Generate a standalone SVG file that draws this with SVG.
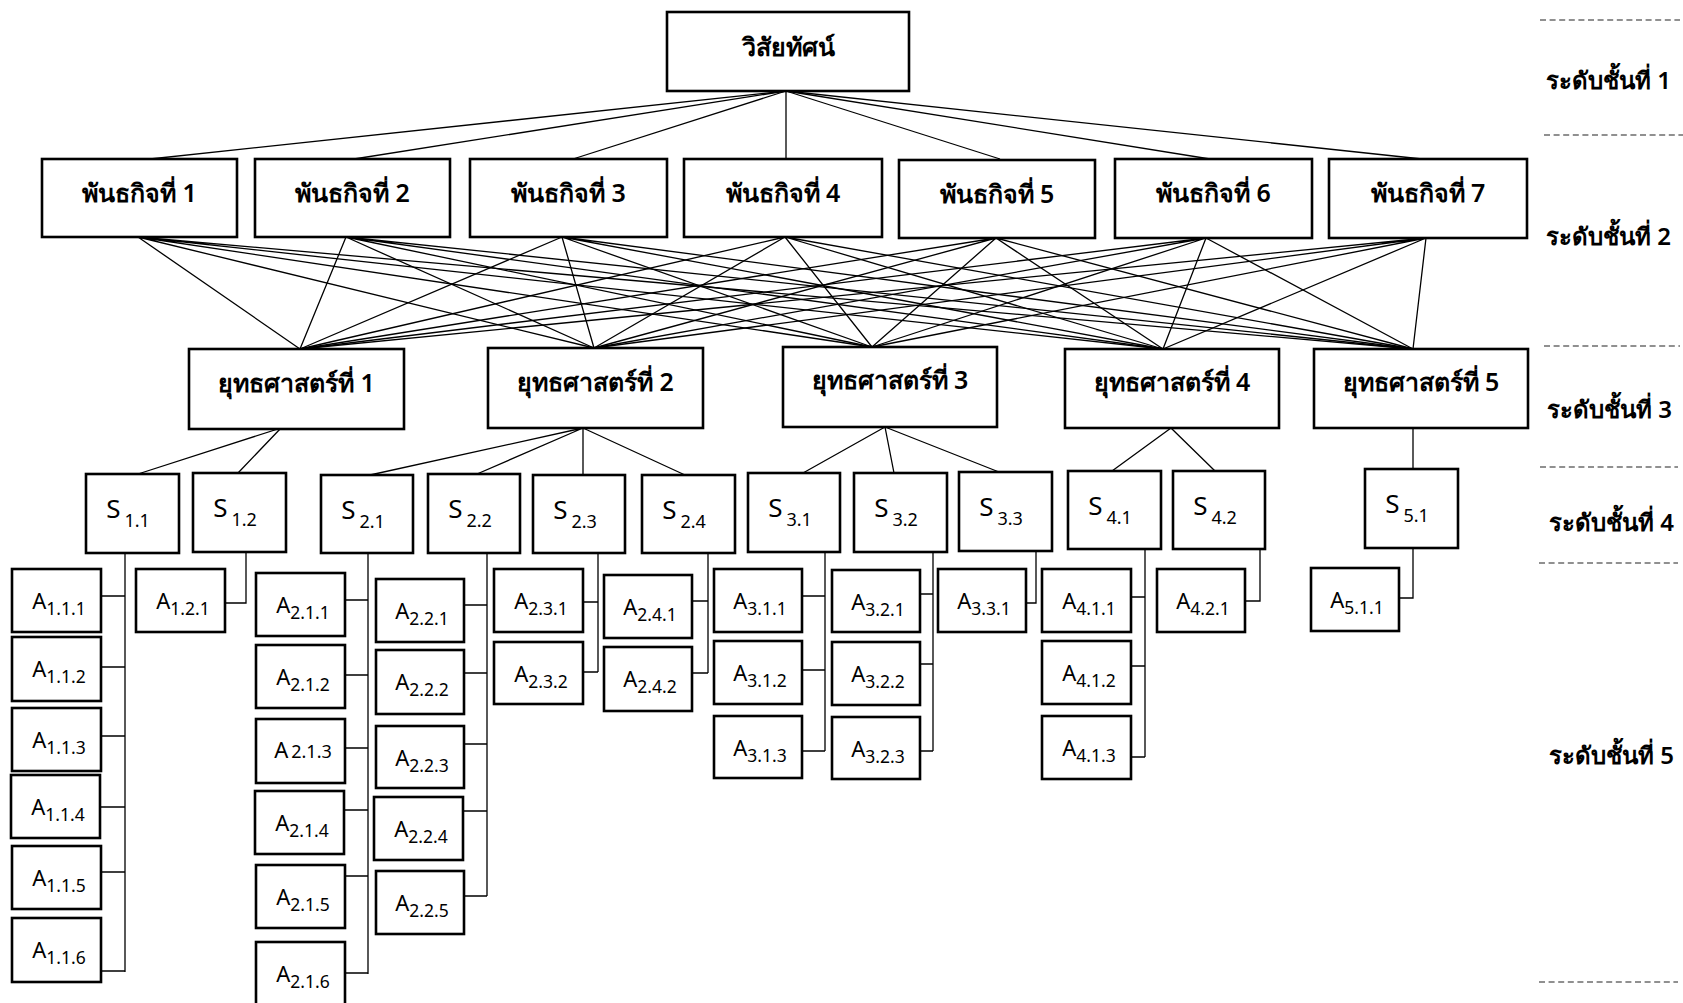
<svg xmlns="http://www.w3.org/2000/svg" width="1683" height="1003" viewBox="0 0 1683 1003">
  <style>
    .bg { fill: #ffffff; }
    .box { fill: #ffffff; stroke: #000000; stroke-width: 2.6; }
    .ln { stroke: #000000; stroke-width: 1.3; fill: none; }
    .dash { stroke: #222222; stroke-width: 1.2; stroke-dasharray: 6 3.6; fill: none; }
    .th { font-family: "Noto Sans", "DejaVu Sans", sans-serif; font-size: 25px; font-weight: 600; text-anchor: middle; fill: #000000; }
    .lbl { font-family: "Noto Sans", "DejaVu Sans", sans-serif; font-size: 24px; font-weight: 600; fill: #000000; }
    .s { font-family: "Noto Sans", "DejaVu Sans", sans-serif; font-size: 26px; text-anchor: middle; fill: #000000; }
    .a { font-family: "Noto Sans", "DejaVu Sans", sans-serif; font-size: 22px; text-anchor: middle; fill: #000000; }
    .sub { font-size: 17.5px; }
    .ssub { font-size: 18px; }
  </style>

  <rect class="bg" x="0" y="0" width="1683" height="1003"/>

  <!-- level guides on the right -->
  <g id="levels">
    <line class="dash" x1="1540" y1="20" x2="1680" y2="20"/>
    <line class="dash" x1="1544" y1="135" x2="1683" y2="135"/>
    <line class="dash" x1="1544" y1="346" x2="1680" y2="346"/>
    <line class="dash" x1="1540" y1="467" x2="1678" y2="467"/>
    <line class="dash" x1="1539" y1="563" x2="1678" y2="563"/>
    <line class="dash" x1="1539" y1="982" x2="1678" y2="982"/>
    <text class="lbl" x="1546" y="89">ระดับชั้นที่ 1</text>
    <text class="lbl" x="1546" y="245">ระดับชั้นที่ 2</text>
    <text class="lbl" x="1547" y="418">ระดับชั้นที่ 3</text>
    <text class="lbl" x="1549" y="531">ระดับชั้นที่ 4</text>
    <text class="lbl" x="1549" y="764">ระดับชั้นที่ 5</text>
  </g>

  <!-- connectors -->
  <g id="connectors">
    <!-- vision to missions -->
    <line class="ln" x1="786" y1="91" x2="150" y2="159"/>
    <line class="ln" x1="786" y1="91" x2="354" y2="159"/>
    <line class="ln" x1="786" y1="91" x2="573" y2="159"/>
    <line class="ln" x1="786" y1="91" x2="786" y2="159"/>
    <line class="ln" x1="786" y1="91" x2="1000" y2="159"/>
    <line class="ln" x1="786" y1="91" x2="1210" y2="159"/>
    <line class="ln" x1="786" y1="91" x2="1422" y2="159"/>

    <!-- every mission to every strategy -->
    <path class="ln" d="M138 237 L300 349 M138 237 L594 348 M138 237 L872 347 M138 237 L1163 349 M138 237 L1413 349"/>
    <path class="ln" d="M346 237 L300 349 M346 237 L594 348 M346 237 L872 347 M346 237 L1163 349 M346 237 L1413 349"/>
    <path class="ln" d="M562 237 L300 349 M562 237 L594 348 M562 237 L872 347 M562 237 L1163 349 M562 237 L1413 349"/>
    <path class="ln" d="M785 237 L300 349 M785 237 L594 348 M785 237 L872 347 M785 237 L1163 349 M785 237 L1413 349"/>
    <path class="ln" d="M996 238 L300 349 M996 238 L594 348 M996 238 L872 347 M996 238 L1163 349 M996 238 L1413 349"/>
    <path class="ln" d="M1206 238 L300 349 M1206 238 L594 348 M1206 238 L872 347 M1206 238 L1163 349 M1206 238 L1413 349"/>
    <path class="ln" d="M1426 238 L300 349 M1426 238 L594 348 M1426 238 L872 347 M1426 238 L1163 349 M1426 238 L1413 349"/>

    <!-- strategies to sub-strategies -->
    <path class="ln" d="M281 428 L138 474 M281 428 L238 473"/>
    <path class="ln" d="M583 428 L370 475 M583 428 L477 474 M583 428 L583 475 M583 428 L685 475"/>
    <path class="ln" d="M885 427 L803 473 M885 427 L894 473 M885 427 L999 472"/>
    <path class="ln" d="M1171 428 L1112 471 M1171 428 L1215 471"/>
    <path class="ln" d="M1413 428 L1413 469"/>

    <!-- sub-strategies to activities -->
    <path class="ln" d="M125 553 V972 M101 596 H125 M101 667 H125 M101 736 H125 M100 807 H125 M101 872 H125 M101 971 H125"/>
    <path class="ln" d="M246 552 V603 H225"/>
    <path class="ln" d="M368 553 V974 M345 600 H368 M345 675 H368 M345 748 H368 M344 810 H368 M345 876 H368 M345 973 H368"/>
    <path class="ln" d="M487 553 V896 M464 605 H487 M464 673 H487 M464 744 H487 M463 811 H487 M464 896 H487"/>
    <path class="ln" d="M598 553 V672 M583 602 H598 M583 672 H598"/>
    <path class="ln" d="M708 553 V673 M692 601 H708 M692 673 H708"/>
    <path class="ln" d="M825 552 V751 M802 596 H825 M802 670 H825 M802 751 H825"/>
    <path class="ln" d="M933 552 V751 M920 594 H933 M920 664 H933 M920 751 H933"/>
    <path class="ln" d="M1036 551 V603 H1026"/>
    <path class="ln" d="M1145 549 V757 M1131 597 H1145 M1131 666 H1145 M1131 757 H1145"/>
    <path class="ln" d="M1260 549 V601 H1245"/>
    <path class="ln" d="M1413 548 V598 H1399"/>
  </g>

  <!-- level 1 -->
  <g id="vision">
    <rect class="box" x="667" y="12" width="242" height="79"/>
    <text class="th" x="788" y="56">วิสัยทัศน์</text>
  </g>

  <!-- level 2 -->
  <g id="mission-1"><rect class="box" x="42" y="159" width="195" height="78"/><text class="th" x="139.5" y="202">พันธกิจที่ 1</text></g>
  <g id="mission-2"><rect class="box" x="255" y="159" width="195" height="78"/><text class="th" x="352.5" y="202">พันธกิจที่ 2</text></g>
  <g id="mission-3"><rect class="box" x="470" y="159" width="197" height="78"/><text class="th" x="568.5" y="202">พันธกิจที่ 3</text></g>
  <g id="mission-4"><rect class="box" x="684" y="159" width="198" height="78"/><text class="th" x="783" y="202">พันธกิจที่ 4</text></g>
  <g id="mission-5"><rect class="box" x="899" y="160" width="196" height="78"/><text class="th" x="997" y="203">พันธกิจที่ 5</text></g>
  <g id="mission-6"><rect class="box" x="1115" y="159" width="197" height="79"/><text class="th" x="1213.5" y="202">พันธกิจที่ 6</text></g>
  <g id="mission-7"><rect class="box" x="1329" y="159" width="198" height="79"/><text class="th" x="1428" y="202">พันธกิจที่ 7</text></g>

  <!-- level 3 -->
  <g id="strategy-1"><rect class="box" x="189" y="349" width="215" height="80"/><text class="th" x="296.5" y="392">ยุทธศาสตร์ที่ 1</text></g>
  <g id="strategy-2"><rect class="box" x="488" y="348" width="215" height="80"/><text class="th" x="595.5" y="391">ยุทธศาสตร์ที่ 2</text></g>
  <g id="strategy-3"><rect class="box" x="783" y="347" width="214" height="80"/><text class="th" x="890" y="389">ยุทธศาสตร์ที่ 3</text></g>
  <g id="strategy-4"><rect class="box" x="1065" y="349" width="214" height="79"/><text class="th" x="1172" y="391">ยุทธศาสตร์ที่ 4</text></g>
  <g id="strategy-5"><rect class="box" x="1314" y="349" width="214" height="79"/><text class="th" x="1421" y="391">ยุทธศาสตร์ที่ 5</text></g>

  <!-- level 4 -->
  <g id="s-1-1"><rect class="box" x="86" y="474" width="93" height="79"/><text class="s" x="128" y="518">S<tspan class="ssub" dx="4" dy="9">1.1</tspan></text></g>
  <g id="s-1-2"><rect class="box" x="193" y="473" width="93" height="79"/><text class="s" x="235" y="517">S<tspan class="ssub" dx="4" dy="9">1.2</tspan></text></g>
  <g id="s-2-1"><rect class="box" x="321" y="475" width="92" height="78"/><text class="s" x="363" y="519">S<tspan class="ssub" dx="4" dy="9">2.1</tspan></text></g>
  <g id="s-2-2"><rect class="box" x="428" y="474" width="92" height="79"/><text class="s" x="470" y="518">S<tspan class="ssub" dx="4" dy="9">2.2</tspan></text></g>
  <g id="s-2-3"><rect class="box" x="533" y="475" width="92" height="78"/><text class="s" x="575" y="519">S<tspan class="ssub" dx="4" dy="9">2.3</tspan></text></g>
  <g id="s-2-4"><rect class="box" x="642" y="475" width="93" height="78"/><text class="s" x="684" y="519">S<tspan class="ssub" dx="4" dy="9">2.4</tspan></text></g>
  <g id="s-3-1"><rect class="box" x="748" y="473" width="92" height="79"/><text class="s" x="790" y="517">S<tspan class="ssub" dx="4" dy="9">3.1</tspan></text></g>
  <g id="s-3-2"><rect class="box" x="854" y="473" width="93" height="79"/><text class="s" x="896" y="517">S<tspan class="ssub" dx="4" dy="9">3.2</tspan></text></g>
  <g id="s-3-3"><rect class="box" x="959" y="472" width="93" height="79"/><text class="s" x="1001" y="516">S<tspan class="ssub" dx="4" dy="9">3.3</tspan></text></g>
  <g id="s-4-1"><rect class="box" x="1068" y="471" width="93" height="78"/><text class="s" x="1110" y="515">S<tspan class="ssub" dx="4" dy="9">4.1</tspan></text></g>
  <g id="s-4-2"><rect class="box" x="1173" y="471" width="92" height="78"/><text class="s" x="1215" y="515">S<tspan class="ssub" dx="4" dy="9">4.2</tspan></text></g>
  <g id="s-5-1"><rect class="box" x="1365" y="469" width="93" height="79"/><text class="s" x="1407" y="513">S<tspan class="ssub" dx="4" dy="9">5.1</tspan></text></g>

  <!-- level 5 -->
  <g id="a-1-1-1"><rect class="box" x="12" y="569" width="89" height="63"/><text class="a" x="59" y="609">A<tspan class="sub" dy="6">1.1.1</tspan></text></g>
  <g id="a-1-1-2"><rect class="box" x="12" y="637" width="89" height="64"/><text class="a" x="59" y="677">A<tspan class="sub" dy="6">1.1.2</tspan></text></g>
  <g id="a-1-1-3"><rect class="box" x="12" y="708" width="89" height="63"/><text class="a" x="59" y="748">A<tspan class="sub" dy="6">1.1.3</tspan></text></g>
  <g id="a-1-1-4"><rect class="box" x="11" y="775" width="89" height="63"/><text class="a" x="58" y="815">A<tspan class="sub" dy="6">1.1.4</tspan></text></g>
  <g id="a-1-1-5"><rect class="box" x="12" y="846" width="89" height="63"/><text class="a" x="59" y="886">A<tspan class="sub" dy="6">1.1.5</tspan></text></g>
  <g id="a-1-1-6"><rect class="box" x="12" y="918" width="89" height="64"/><text class="a" x="59" y="958">A<tspan class="sub" dy="6">1.1.6</tspan></text></g>

  <g id="a-1-2-1"><rect class="box" x="136" y="569" width="89" height="63"/><text class="a" x="183" y="609">A<tspan class="sub" dy="6">1.2.1</tspan></text></g>

  <g id="a-2-1-1"><rect class="box" x="256" y="573" width="89" height="63"/><text class="a" x="303" y="613">A<tspan class="sub" dy="6">2.1.1</tspan></text></g>
  <g id="a-2-1-2"><rect class="box" x="256" y="645" width="89" height="63"/><text class="a" x="303" y="685">A<tspan class="sub" dy="6">2.1.2</tspan></text></g>
  <g id="a-2-1-3"><rect class="box" x="256" y="719" width="89" height="64"/><text class="a" x="303" y="758">A<tspan dx="3" font-size="18">2.1.3</tspan></text></g>
  <g id="a-2-1-4"><rect class="box" x="255" y="791" width="89" height="63"/><text class="a" x="302" y="831">A<tspan class="sub" dy="6">2.1.4</tspan></text></g>
  <g id="a-2-1-5"><rect class="box" x="256" y="865" width="89" height="63"/><text class="a" x="303" y="905">A<tspan class="sub" dy="6">2.1.5</tspan></text></g>
  <g id="a-2-1-6"><rect class="box" x="256" y="942" width="89" height="70"/><text class="a" x="303" y="982">A<tspan class="sub" dy="6">2.1.6</tspan></text></g>

  <g id="a-2-2-1"><rect class="box" x="376" y="579" width="88" height="63"/><text class="a" x="422" y="619">A<tspan class="sub" dy="6">2.2.1</tspan></text></g>
  <g id="a-2-2-2"><rect class="box" x="376" y="650" width="88" height="64"/><text class="a" x="422" y="690">A<tspan class="sub" dy="6">2.2.2</tspan></text></g>
  <g id="a-2-2-3"><rect class="box" x="376" y="726" width="88" height="62"/><text class="a" x="422" y="766">A<tspan class="sub" dy="6">2.2.3</tspan></text></g>
  <g id="a-2-2-4"><rect class="box" x="374" y="797" width="89" height="63"/><text class="a" x="421" y="837">A<tspan class="sub" dy="6">2.2.4</tspan></text></g>
  <g id="a-2-2-5"><rect class="box" x="376" y="871" width="88" height="63"/><text class="a" x="422" y="911">A<tspan class="sub" dy="6">2.2.5</tspan></text></g>

  <g id="a-2-3-1"><rect class="box" x="494" y="569" width="89" height="63"/><text class="a" x="541" y="609">A<tspan class="sub" dy="6">2.3.1</tspan></text></g>
  <g id="a-2-3-2"><rect class="box" x="494" y="642" width="89" height="62"/><text class="a" x="541" y="682">A<tspan class="sub" dy="6">2.3.2</tspan></text></g>

  <g id="a-2-4-1"><rect class="box" x="604" y="575" width="88" height="63"/><text class="a" x="650" y="615">A<tspan class="sub" dy="6">2.4.1</tspan></text></g>
  <g id="a-2-4-2"><rect class="box" x="604" y="647" width="88" height="64"/><text class="a" x="650" y="687">A<tspan class="sub" dy="6">2.4.2</tspan></text></g>

  <g id="a-3-1-1"><rect class="box" x="714" y="569" width="88" height="63"/><text class="a" x="760" y="609">A<tspan class="sub" dy="6">3.1.1</tspan></text></g>
  <g id="a-3-1-2"><rect class="box" x="714" y="641" width="88" height="63"/><text class="a" x="760" y="681">A<tspan class="sub" dy="6">3.1.2</tspan></text></g>
  <g id="a-3-1-3"><rect class="box" x="714" y="716" width="88" height="62"/><text class="a" x="760" y="756">A<tspan class="sub" dy="6">3.1.3</tspan></text></g>

  <g id="a-3-2-1"><rect class="box" x="832" y="570" width="88" height="62"/><text class="a" x="878" y="610">A<tspan class="sub" dy="6">3.2.1</tspan></text></g>
  <g id="a-3-2-2"><rect class="box" x="832" y="642" width="88" height="63"/><text class="a" x="878" y="682">A<tspan class="sub" dy="6">3.2.2</tspan></text></g>
  <g id="a-3-2-3"><rect class="box" x="832" y="717" width="88" height="62"/><text class="a" x="878" y="757">A<tspan class="sub" dy="6">3.2.3</tspan></text></g>

  <g id="a-3-3-1"><rect class="box" x="938" y="569" width="88" height="63"/><text class="a" x="984" y="609">A<tspan class="sub" dy="6">3.3.1</tspan></text></g>

  <g id="a-4-1-1"><rect class="box" x="1042" y="569" width="89" height="63"/><text class="a" x="1089" y="609">A<tspan class="sub" dy="6">4.1.1</tspan></text></g>
  <g id="a-4-1-2"><rect class="box" x="1042" y="641" width="89" height="63"/><text class="a" x="1089" y="681">A<tspan class="sub" dy="6">4.1.2</tspan></text></g>
  <g id="a-4-1-3"><rect class="box" x="1042" y="716" width="89" height="63"/><text class="a" x="1089" y="756">A<tspan class="sub" dy="6">4.1.3</tspan></text></g>

  <g id="a-4-2-1"><rect class="box" x="1157" y="569" width="88" height="63"/><text class="a" x="1203" y="609">A<tspan class="sub" dy="6">4.2.1</tspan></text></g>

  <g id="a-5-1-1"><rect class="box" x="1311" y="568" width="88" height="63"/><text class="a" x="1357" y="608">A<tspan class="sub" dy="6">5.1.1</tspan></text></g>
</svg>
